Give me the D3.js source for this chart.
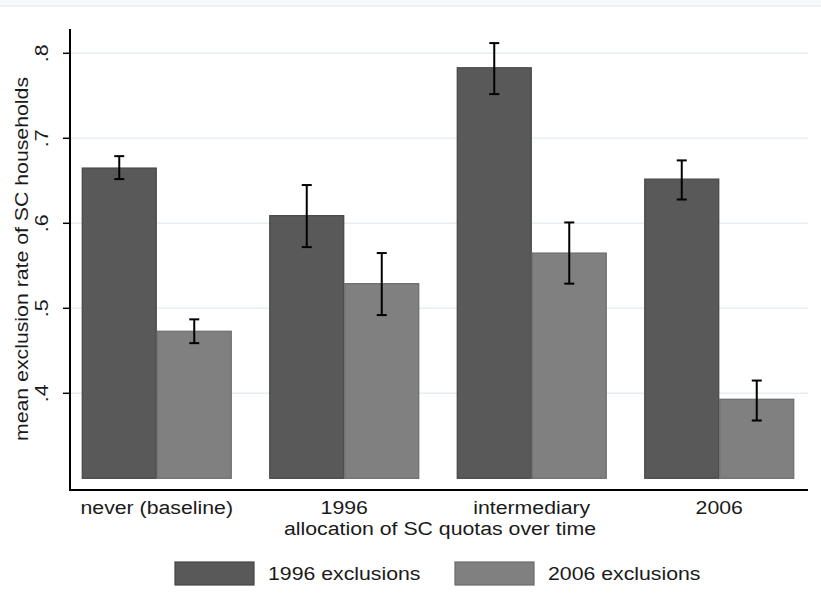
<!DOCTYPE html>
<html>
<head>
<meta charset="utf-8">
<script src="https://cdn.jsdelivr.net/npm/d3@7"></script>
<style>
  body { margin: 0; background: #fff; }
  svg text { font-family: "Liberation Sans", Arial, sans-serif; fill: #1a1a1a; }
</style>
</head>
<body>
<div id="chart"></div>
<script>
// categories and values
var groups = ["never (baseline)", "1996", "intermediary", "2006"];
var series = ["1996 exclusions", "2006 exclusions"];
var excl1996 = [0.665, 0.609, 0.783, 0.652];
var excl2006 = [0.473, 0.529, 0.565, 0.393];
var ci1996 = [[0.652, 0.679], [0.572, 0.645], [0.752, 0.812], [0.628, 0.674]];
var ci2006 = [[0.459, 0.487], [0.492, 0.565], [0.529, 0.601], [0.368, 0.415]];
var yTicks = [0.4, 0.5, 0.6, 0.7, 0.8];
var yTickLabels = [".4", ".5", ".6", ".7", ".8"];
var barBase = 0.3;

var width = 821, height = 615;
var colors = ["#595959", "#808080"];
var strokes = ["#454545", "#6b6b6b"];
var fontSize = "19px";
var stretch = 1.12;  // the text in the picture is a bit wide

var svg = d3.select("#chart").append("svg")
    .attr("width", width)
    .attr("height", height);

// faint strip left over from the page above
svg.append("rect")
    .attr("x", 0).attr("y", 0)
    .attr("width", width).attr("height", 6)
    .attr("fill", "#f6f8fa");
svg.append("line")
    .attr("x1", 0).attr("x2", width)
    .attr("y1", 6).attr("y2", 6)
    .attr("stroke", "#e6ecf1")
    .attr("stroke-width", 1.5);

var plotLeft = 70, plotRight = 808, plotTop = 29, plotBottom = 490;

var y = d3.scaleLinear().domain([0.4, 0.8]).range([393.3, 53.3]);

var x0 = d3.scaleBand().domain(groups).range([63, 813]).paddingInner(0.2).paddingOuter(0.1);
var x1 = d3.scaleBand().domain(series).range([0, x0.bandwidth()]);

// grid lines
svg.append("g").selectAll("line")
    .data(yTicks)
    .enter().append("line")
    .attr("x1", plotLeft + 1).attr("x2", plotRight)
    .attr("y1", function(d) { return y(d); })
    .attr("y2", function(d) { return y(d); })
    .attr("stroke", "#e6eef1")
    .attr("stroke-width", 1.5);

// rows of the table
var rows = groups.map(function(g, i) {
    return [
        {group: g, key: series[0], value: excl1996[i], ci: ci1996[i], k: 0},
        {group: g, key: series[1], value: excl2006[i], ci: ci2006[i], k: 1}
    ];
});

var gGroups = svg.append("g").selectAll("g")
    .data(rows)
    .enter().append("g")
    .attr("transform", function(d) { return "translate(" + x0(d[0].group) + ",0)"; });

gGroups.selectAll("rect")
    .data(function(d) { return d; })
    .enter().append("rect")
    .attr("x", function(d) { return x1(d.key) + 0.5; })
    .attr("width", x1.bandwidth() - 1)
    .attr("y", function(d) { return y(d.value); })
    .attr("height", function(d) { return y(barBase) - y(d.value); })
    .attr("fill", function(d) { return colors[d.k]; })
    .attr("stroke", function(d) { return strokes[d.k]; })
    .attr("stroke-width", 1.2);

// error bars
var capW = 5;
var eb = gGroups.selectAll("g.err")
    .data(function(d) { return d; })
    .enter().append("g")
    .attr("class", "err")
    .attr("stroke", "#000")
    .attr("stroke-width", 2);

eb.append("line")
    .attr("x1", function(d) { return x1(d.key) + x1.bandwidth() / 2; })
    .attr("x2", function(d) { return x1(d.key) + x1.bandwidth() / 2; })
    .attr("y1", function(d) { return y(d.ci[0]); })
    .attr("y2", function(d) { return y(d.ci[1]); });
[0, 1].forEach(function(j) {
    eb.append("line")
        .attr("x1", function(d) { return x1(d.key) + x1.bandwidth() / 2 - capW; })
        .attr("x2", function(d) { return x1(d.key) + x1.bandwidth() / 2 + capW; })
        .attr("y1", function(d) { return y(d.ci[j]); })
        .attr("y2", function(d) { return y(d.ci[j]); });
});

// axes
svg.append("line")
    .attr("x1", plotLeft).attr("x2", plotLeft)
    .attr("y1", plotTop).attr("y2", plotBottom)
    .attr("stroke", "#000").attr("stroke-width", 2);
svg.append("line")
    .attr("x1", plotLeft - 1).attr("x2", plotRight)
    .attr("y1", plotBottom).attr("y2", plotBottom)
    .attr("stroke", "#000").attr("stroke-width", 2);

// y ticks and rotated labels
var yt = svg.append("g").selectAll("g")
    .data(yTicks)
    .enter().append("g");
yt.append("line")
    .attr("x1", plotLeft - 7).attr("x2", plotLeft)
    .attr("y1", function(d) { return y(d); })
    .attr("y2", function(d) { return y(d); })
    .attr("stroke", "#000").attr("stroke-width", 1.5);
yt.append("text")
    .attr("transform", function(d) { return "translate(48," + y(d) + ") rotate(-90) scale(" + stretch + ",1)"; })
    .attr("text-anchor", "middle")
    .style("font-size", fontSize)
    .text(function(d, i) { return yTickLabels[i]; });

// y title
svg.append("text")
    .attr("transform", "translate(28,259) rotate(-90) scale(" + stretch + ",1)")
    .attr("text-anchor", "middle")
    .style("font-size", fontSize)
    .text("mean exclusion rate of SC households");

// x labels
svg.append("g").selectAll("text")
    .data(groups)
    .enter().append("text")
    .attr("transform", function(d) { return "translate(" + (x0(d) + x0.bandwidth() / 2) + ",514) scale(" + stretch + ",1)"; })
    .attr("text-anchor", "middle")
    .style("font-size", fontSize)
    .text(function(d) { return d; });

svg.append("text")
    .attr("transform", "translate(440,535) scale(" + stretch + ",1)")
    .attr("text-anchor", "middle")
    .style("font-size", fontSize)
    .text("allocation of SC quotas over time");

// legend
var legendX = [175, 455];
var lg = svg.append("g").selectAll("g")
    .data(series)
    .enter().append("g")
    .attr("transform", function(d, i) { return "translate(" + legendX[i] + ",562)"; });
lg.append("rect")
    .attr("width", 79).attr("height", 23)
    .attr("fill", function(d, i) { return colors[i]; })
    .attr("stroke", function(d, i) { return strokes[i]; })
    .attr("stroke-width", 1.2);
lg.append("text")
    .attr("transform", "translate(93,18) scale(" + stretch + ",1)")
    .style("font-size", fontSize)
    .text(function(d) { return d; });
</script>
</body>
</html>
